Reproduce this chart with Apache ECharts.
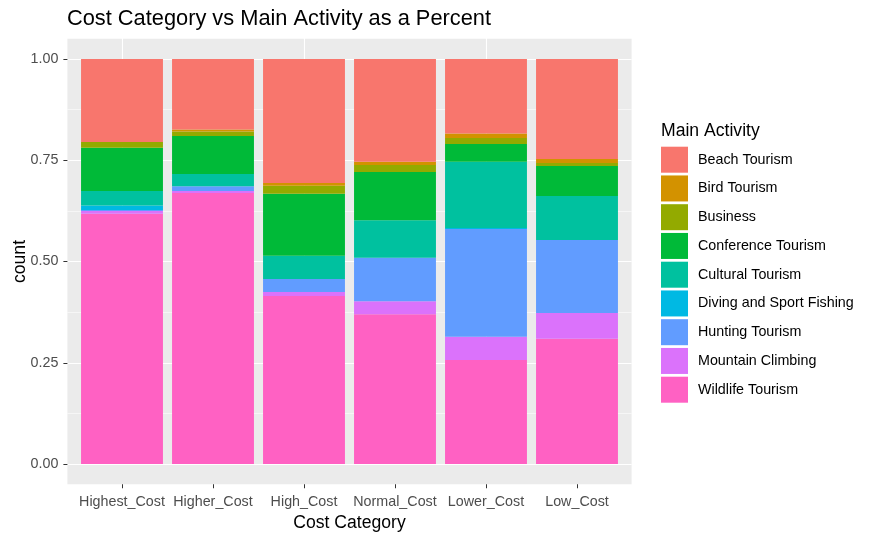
<!DOCTYPE html>
<html>
<head>
<meta charset="utf-8">
<script src="https://cdn.jsdelivr.net/npm/echarts@6/dist/echarts.min.js"></script>
<style>
html,body{margin:0;padding:0;background:#fff;}
#chart{width:875px;height:540px;}
</style>
</head>
<body>
<div id="chart"></div>
<script>
// ---- data ----
const categories = ['Highest_Cost', 'Higher_Cost', 'High_Cost', 'Normal_Cost', 'Lower_Cost', 'Low_Cost'];
const legendOrder = ['Beach Tourism', 'Bird Tourism', 'Business', 'Conference Tourism', 'Cultural Tourism',
  'Diving and Sport Fishing', 'Hunting Tourism', 'Mountain Climbing', 'Wildlife Tourism'];
const beachTourism      = [0.205, 0.174, 0.306, 0.254, 0.184, 0.247];
const birdTourism       = [0.000, 0.005, 0.007, 0.008, 0.011, 0.010];
const business          = [0.014, 0.011, 0.020, 0.017, 0.015, 0.007];
const conferenceTourism = [0.107, 0.094, 0.153, 0.119, 0.044, 0.074];
const culturalTourism   = [0.036, 0.030, 0.057, 0.093, 0.163, 0.109];
const divingFishing     = [0.011, 0.000, 0.000, 0.000, 0.003, 0.000];
const huntingTourism    = [0.002, 0.012, 0.032, 0.107, 0.266, 0.180];
const mountainClimbing  = [0.007, 0.005, 0.010, 0.032, 0.057, 0.064];
const wildlifeTourism   = [0.618, 0.669, 0.415, 0.370, 0.257, 0.309];
const yTicks = [0, 0.25, 0.5, 0.75, 1];

const palette = {
  'Beach Tourism': '#F8766D', 'Bird Tourism': '#D39200', 'Business': '#93AA00',
  'Conference Tourism': '#00BA38', 'Cultural Tourism': '#00C19F', 'Diving and Sport Fishing': '#00B9E3',
  'Hunting Tourism': '#619CFF', 'Mountain Climbing': '#DB72FB', 'Wildlife Tourism': '#FF61C3'
};
// stacking order: bottom first
const stackSeries = [
  ['Wildlife Tourism', wildlifeTourism],
  ['Mountain Climbing', mountainClimbing],
  ['Hunting Tourism', huntingTourism],
  ['Diving and Sport Fishing', divingFishing],
  ['Cultural Tourism', culturalTourism],
  ['Conference Tourism', conferenceTourism],
  ['Business', business],
  ['Bird Tourism', birdTourism],
  ['Beach Tourism', beachTourism]
];

const FONT = "'Liberation Sans', Arial, sans-serif";
const chart = echarts.init(document.getElementById('chart'), null, {renderer: 'canvas'});

const option = {
  animation: false,
  textStyle: {fontFamily: FONT},
  title: [
    {text: 'Cost Category vs Main Activity as a Percent', left: 67, top: 8, padding: 0,
     textStyle: {fontFamily: FONT, fontSize: 21.8, fontWeight: 'normal', color: '#000'}},
    {text: 'Main Activity', left: 661, top: 122.5, padding: 0,
     textStyle: {fontFamily: FONT, fontSize: 17.6, fontWeight: 'normal', color: '#000'}}
  ],
  legend: {
    data: legendOrder, orient: 'vertical', left: 661, top: 146.7, padding: 0,
    itemWidth: 27, itemHeight: 26, itemGap: 2.75, icon: 'rect',
    textStyle: {fontFamily: FONT, fontSize: 14.3, color: '#000', padding: [0, 0, 0, 5]},
    selectedMode: false
  },
  grid: [
    {left: 67.4, top: 38.75, width: 564.2, height: 445.5, show: true, backgroundColor: '#EBEBEB', borderWidth: 0, containLabel: false, outerBoundsMode: 'none'},
    {left: 67.4, top: 59, width: 564.2, height: 405, containLabel: false, outerBoundsMode: 'none'},
    {left: 76.5, top: 38.75, width: 546, height: 445.5, containLabel: false, outerBoundsMode: 'none'}
  ],
  xAxis: [
    {gridIndex: 0, type: 'value', show: false},
    {gridIndex: 1, type: 'value', show: false, min: 0, max: 1},
    {gridIndex: 2, type: 'category', data: categories, position: 'bottom',
     axisLine: {show: false}, axisLabel: {show: false}, splitLine: {show: false},
     axisTick: {show: true, inside: true, length: 445.5, alignWithLabel: true, lineStyle: {color: '#FFFFFF', width: 1.1}}},
    {gridIndex: 2, type: 'category', data: categories, position: 'bottom', offset: 0,
     axisLine: {show: false}, splitLine: {show: false},
     axisTick: {show: true, length: 4, alignWithLabel: true, lineStyle: {color: '#333333', width: 1}},
     axisLabel: {color: '#4D4D4D', fontSize: 14.3, fontFamily: FONT, margin: 10.5, interval: 0},
     name: 'Cost Category', nameLocation: 'middle', nameGap: 29,
     nameTextStyle: {color: '#000', fontSize: 17.6, fontFamily: FONT}}
  ],
  yAxis: [
    {gridIndex: 0, type: 'value', show: false},
    {gridIndex: 1, type: 'value', min: yTicks[0], max: yTicks[yTicks.length - 1], interval: 0.25,
     axisLine: {show: false},
     axisTick: {show: true, length: 4, lineStyle: {color: '#333333', width: 1}},
     axisLabel: {color: '#4D4D4D', fontSize: 14.3, fontFamily: FONT, margin: 9,
                 formatter: v => v.toFixed(2)},
     splitLine: {show: true, lineStyle: {color: '#FFFFFF', width: 1.1}},
     minorTick: {show: false, splitNumber: 2},
     minorSplitLine: {show: true, lineStyle: {color: '#FFFFFF', width: 0.55}},
     name: 'count', nameLocation: 'middle', nameGap: 38, nameRotate: 90, nameMoveOverlap: false,
     nameTextStyle: {color: '#000', fontSize: 17.6, fontFamily: FONT}},
    {gridIndex: 2, type: 'value', min: -0.05, max: 1.05, show: false}
  ],
  series: stackSeries.map(([name, vals]) => ({
    name: name, type: 'bar', stack: 'total', xAxisIndex: 2, yAxisIndex: 2,
    barWidth: '90%', data: vals, itemStyle: {color: palette[name]},
    emphasis: {disabled: true}
  }))
};
chart.setOption(option);
</script>
</body>
</html>
